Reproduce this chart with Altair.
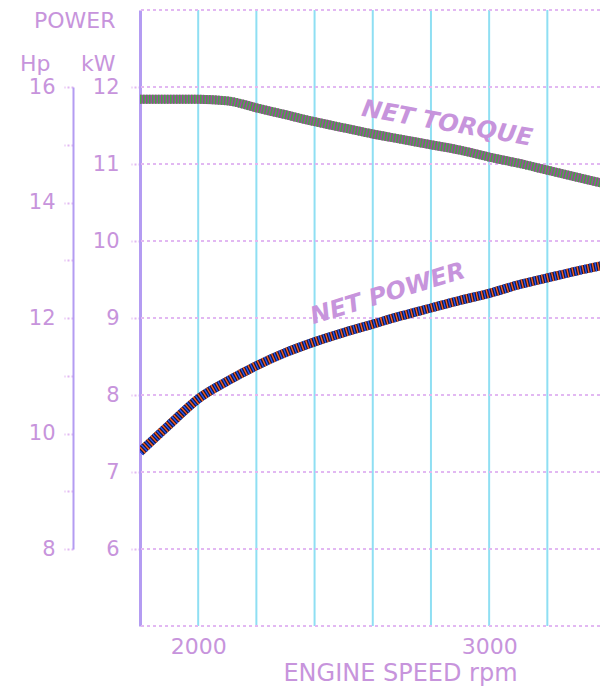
import altair as alt
import pandas as pd

# ---- data ----
rpm = [1800, 1900, 2000, 2100, 2200, 2300, 2400, 2500, 2600, 2700, 2800,
       2900, 3000, 3100, 3200, 3300, 3400]
net_torque = [11.84, 11.84, 11.84, 11.82, 11.73, 11.64, 11.55, 11.47, 11.39,
              11.32, 11.25, 11.18, 11.09, 11.01, 10.92, 10.83, 10.74]
net_power = [7.26, 7.61, 7.95, 8.18, 8.38, 8.55, 8.69, 8.81, 8.92, 9.03,
             9.13, 9.23, 9.32, 9.43, 9.52, 9.61, 9.69]

rpm_gridlines = [2000, 2200, 2400, 2600, 2800, 3000, 3200, 3400]
rpm_labels = [2000, 3000]
kw_gridlines = [5, 6, 7, 8, 9, 10, 11, 12, 13]
kw_ticks = [6, 7, 8, 9, 10, 11, 12]
hp_ticks = [8, 9, 10, 11, 12, 13, 14, 15, 16]

torque_label = ["NET TORQUE"]
torque_label_rpm = [2855]
torque_label_kw = [11.52]
power_label = ["NET POWER"]
power_label_rpm = [2652]
power_label_kw = [9.31]

# ---- styling ----
FONT = "DejaVu Sans"
TXT = "#c794dc"
GRID_H = "#e2b8f2"
GRID_V = "#8fdff3"
AXIS_LINE = "#b49cf2"

W, H = 460, 616
KW_DOMAIN = [5, 13]
px_per_kw = H / (KW_DOMAIN[1] - KW_DOMAIN[0])
RPM_DOMAIN = [1800, 3381]

xscale = alt.Scale(domain=RPM_DOMAIN, nice=False, zero=False)
yscale = alt.Scale(domain=KW_DOMAIN, nice=False, zero=False)

x_axis = alt.Axis(values=rpm_labels, format="d", grid=False, domain=False,
                  ticks=False, labelPadding=10, labelFontSize=22, labelFont=FONT,
                  labelColor=TXT, labelBaseline="top",
                  title="ENGINE SPEED rpm", titleFont=FONT, titleFontSize=24,
                  titleFontWeight="normal", titleColor=TXT,
                  titleX=260, titleY=35, titleAlign="center",
                  titleBaseline="top")

y_axis = alt.Axis(orient="left", values=kw_ticks, grid=False, domain=True,
                  domainColor=AXIS_LINE, domainWidth=3,
                  ticks=True, tickSize=9, tickColor=GRID_H, tickWidth=2,
                  tickDash=[2, 2], labelPadding=12, labelFontSize=21,
                  labelFont=FONT, labelColor=TXT,
                  title=["POWER", "kW"], titleAngle=0, titleX=-25,
                  titleY=17, titleLineHeight=43,
                  titleAlign="right", titleBaseline="alphabetic",
                  titleFont=FONT, titleFontSize=22,
                  titleFontWeight="normal", titleColor=TXT)

X = lambda f="rpm": alt.X(f"{f}:Q", scale=xscale, axis=x_axis)
Y = lambda f="kW": alt.Y(f"{f}:Q", scale=yscale, axis=y_axis)

curves = pd.DataFrame({"rpm": rpm, "torque": net_torque, "power": net_power})

vgrid = alt.Chart(pd.DataFrame({"rpm": rpm_gridlines})).mark_rule(
    color=GRID_V, strokeWidth=2, clip=True
).encode(x=X())

hgrid = alt.Chart(pd.DataFrame({"kW": kw_gridlines})).mark_rule(
    color=GRID_H, strokeWidth=2, strokeDash=[3, 3]
).encode(y=Y())


def line(field, color, width, dash=None, offset=0):
    kw = dict(color=color, strokeWidth=width, interpolate="monotone", clip=True)
    if dash:
        kw["strokeDash"] = dash
        kw["strokeDashOffset"] = offset
    return alt.Chart(curves).mark_line(**kw).encode(x=X(), y=Y(field))


torque_layers = [
    line("torque", "#a048a0", 9),
    line("torque", "#44a844", 9, [1.5, 1.5], 0),
]
power_layers = [
    line("power", "#1c1c3c", 9),
    line("power", "#2a55ff", 9, [1.3, 3.9], 0),
    line("power", "#ff5a20", 9, [1.3, 3.9], 2.6),
]

torque_text = alt.Chart(pd.DataFrame({
    "rpm": torque_label_rpm, "kW": torque_label_kw, "t": torque_label
})).mark_text(font=FONT, fontSize=24, fontWeight="bold", fontStyle="italic",
              color=TXT, angle=10, align="center", baseline="middle").encode(
    x=X(), y=Y(), text="t:N")

power_text = alt.Chart(pd.DataFrame({
    "rpm": power_label_rpm, "kW": power_label_kw, "t": power_label
})).mark_text(font=FONT, fontSize=24, fontWeight="bold", fontStyle="italic",
              color=TXT, angle=343, align="center", baseline="middle").encode(
    x=X(), y=Y(), text="t:N")

main = alt.layer(vgrid, hgrid, *torque_layers, *power_layers,
                 torque_text, power_text)

# Hp axis: 16 hp sits at 12 kW and 8 hp at 6 kW
hp_range = [px_per_kw * (KW_DOMAIN[1] - 6), px_per_kw * (KW_DOMAIN[1] - 12)]
hp_df = pd.DataFrame({"hp": hp_ticks, "rpm": [RPM_DOMAIN[0]] * len(hp_ticks)})
hp_layer = alt.Chart(hp_df).mark_point(opacity=0).encode(
    x=X(),
    y=alt.Y("hp:Q", scale=alt.Scale(domain=[8, 16], range=hp_range, nice=False,
                                    zero=False),
            axis=alt.Axis(orient="left", offset=67, values=hp_ticks,
                          labelExpr="datum.value % 2 == 0 ? datum.label : ''",
                          grid=False, domain=True, domainColor=AXIS_LINE,
                          domainWidth=2, ticks=True, tickSize=9, tickColor=GRID_H,
                          tickWidth=2, tickDash=[2, 2], labelPadding=9,
                          labelFontSize=21, labelFont=FONT, labelColor=TXT,
                          title="Hp", titleAngle=0, titleX=-23, titleY=60,
                          titleAlign="right", titleBaseline="alphabetic",
                          titleFont=FONT, titleFontSize=22,
                          titleFontWeight="normal", titleColor=TXT)),
)

chart = alt.layer(main, hp_layer).resolve_scale(y="independent").properties(
    width=W, height=H,
    autosize=alt.AutoSizeParams(type="none"),
    padding={"left": 132, "top": 2, "right": 0, "bottom": 62},
    background="white",
).configure_view(strokeWidth=0)

chart.save("out.html", embed_options={"renderer": "svg", "actions": False})
